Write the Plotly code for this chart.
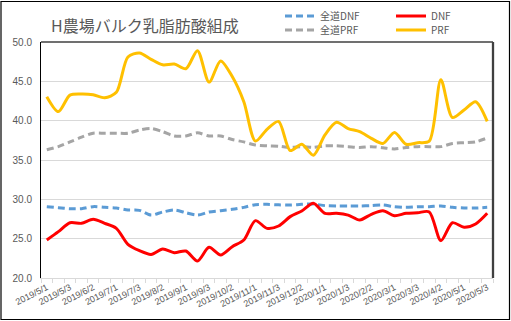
import plotly.graph_objects as go

categories = [
    "2019/5/1", "2019/5/2", "2019/5/3", "2019/6/1", "2019/6/2", "2019/6/3",
    "2019/7/1", "2019/7/2", "2019/7/3", "2019/8/1", "2019/8/2", "2019/8/3",
    "2019/9/1", "2019/9/2", "2019/9/3", "2019/10/1", "2019/10/2", "2019/10/3",
    "2019/11/1", "2019/11/2", "2019/11/3", "2019/12/1", "2019/12/2", "2019/12/3",
    "2020/1/1", "2020/1/2", "2020/1/3", "2020/2/1", "2020/2/2", "2020/2/3",
    "2020/3/1", "2020/3/2", "2020/3/3", "2020/4/1", "2020/4/2", "2020/4/3",
    "2020/5/1", "2020/5/2", "2020/5/3",
]

zendo_dnf = [29.07, 28.94, 28.81, 28.81, 29.07, 28.98, 28.9, 28.64, 28.6, 28.0,
             28.39, 28.64, 28.3, 28.0, 28.39, 28.56, 28.73, 28.98, 29.32, 29.36,
             29.3, 29.28, 29.36, 29.4, 29.2, 29.15, 29.15, 29.15, 29.2, 29.28,
             29.07, 28.98, 29.07, 29.07, 29.15, 28.98, 28.9, 28.9, 28.98]

dnf = [24.83, 25.89, 27.03, 26.95, 27.46, 26.95, 26.31, 24.28, 23.47, 23.0,
       23.69, 23.22, 23.43, 22.16, 23.9, 22.92, 23.98, 24.83, 27.29, 26.31,
       26.61, 27.8, 28.52, 29.49, 28.22, 28.22, 28.0, 27.37, 28.1, 28.56,
       27.92, 28.22, 28.3, 28.4, 24.75, 27.03, 26.44, 26.86, 28.22]

zendo_prf = [36.3, 36.7, 37.3, 37.9, 38.4, 38.4, 38.4, 38.4, 38.8, 39.0,
             38.6, 38.05, 38.05, 38.45, 38.05, 38.05, 37.6, 37.3, 36.9, 36.8,
             36.75, 36.6, 36.7, 36.6, 36.8, 36.8, 36.7, 36.6, 36.7, 36.55,
             36.4, 36.6, 36.7, 36.7, 36.7, 37.1, 37.2, 37.3, 37.8]

prf = [43.05, 41.15, 43.25, 43.4, 43.3, 42.9, 43.6, 48.1, 48.6, 47.8,
       47.1, 47.2, 46.6, 48.9, 44.9, 47.6, 45.6, 42.4, 37.4, 38.9,
       39.9, 36.2, 37.0, 35.6, 38.2, 39.8, 39.0, 38.6, 37.75, 37.1,
       38.5, 37.0, 37.2, 37.4, 45.2, 40.4, 41.35, 42.4, 39.9]

y_ticks = [20.0, 25.0, 30.0, 35.0, 40.0, 45.0, 50.0]

title_text = "H農場バルク乳脂肪酸組成"

W, H = 511, 321
L, R, T, B = 41, 18, 42, 43
pw, ph = W - L - R, H - T - B

def px_x(px):
    return (px - L) / pw

def px_y(py):
    return (H - B - py) / ph

xs = list(range(len(categories)))
label_idx = xs[::2]
label_txt = [categories[i] for i in label_idx]

TXT = "#595959"
fig = go.Figure()

def add(name, ys, color, dash, legend):
    fig.add_trace(go.Scatter(
        x=xs, y=ys, name=name, mode="lines",
        line=dict(color=color, width=3, dash=dash, shape="spline", smoothing=0.8),
        legend=legend,
    ))

add("全道DNF", zendo_dnf, "#5B9BD5", "7px,4px", "legend")
add("DNF", dnf, "#FF0000", "solid", "legend")
add("全道PRF", zendo_prf, "#A5A5A5", "7px,4px", "legend2")
add("PRF", prf, "#FFC000", "solid", "legend2")

legend_common = dict(
    orientation="h", xanchor="left", yanchor="middle",
    font=dict(family="Noto Sans CJK JP, sans-serif", size=10, color=TXT),
    bgcolor="rgba(0,0,0,0)", itemwidth=30, entrywidth=66, entrywidthmode="pixels",
    tracegroupgap=0, itemclick=False,
)

fig.update_layout(
    width=W, height=H,
    margin=dict(l=L, r=R, t=T, b=B, autoexpand=False),
    paper_bgcolor="white", plot_bgcolor="white",
    showlegend=True,
    legend=dict(x=px_x(280), y=px_y(16), **legend_common),
    legend2=dict(x=px_x(280), y=px_y(30), **legend_common),
    xaxis=dict(
        range=[-0.5, len(categories) - 0.5],
        tickmode="array", tickvals=label_idx, ticktext=label_txt,
        tickangle=-27, ticks="", automargin=False,
        tickfont=dict(family="Liberation Sans, Arial", size=9, color=TXT),
        showgrid=False, zeroline=False,
        showline=True, linecolor="#D9D9D9", linewidth=1,
        minor=dict(tickmode="linear", tick0=-0.5, dtick=1, ticks="outside",
                   ticklen=4, tickcolor="#D9D9D9", tickwidth=1, showgrid=False),
    ),
    yaxis=dict(
        range=[20, 50], tickmode="array", tickvals=y_ticks,
        tickformat=".1f", ticks="", ticklabelstandoff=6, automargin=False,
        tickfont=dict(family="Liberation Sans, Arial", size=10, color=TXT),
        showgrid=True, gridcolor="#D9D9D9", gridwidth=1, zeroline=False,
        showline=True, linecolor="black", linewidth=1,
    ),
    annotations=[dict(
        text=title_text, xref="paper", yref="paper",
        x=px_x(49), y=px_y(25), xanchor="left", yanchor="middle",
        showarrow=False,
        font=dict(family="Noto Sans CJK JP, sans-serif", size=16, color=TXT),
    )],
    shapes=[
        dict(type="line", xref="paper", yref="paper", x0=0, x1=1, y0=1, y1=1,
             line=dict(color="#404040", width=1.3)),
        dict(type="line", xref="paper", yref="paper", x0=1, x1=1, y0=0, y1=1,
             line=dict(color="#404040", width=2.3)),
        dict(type="rect", xref="paper", yref="paper",
             x0=px_x(1), x1=px_x(509.5), y0=px_y(319.5), y1=px_y(1.5),
             line=dict(color="black", width=1.2)),
    ],
)

fig.write_html("out.html")
